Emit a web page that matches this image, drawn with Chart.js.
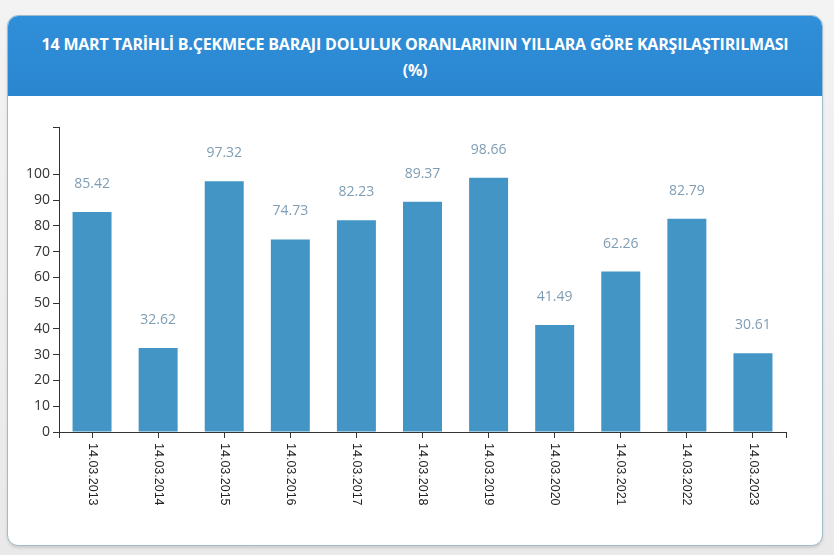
<!DOCTYPE html>
<html lang="tr">
<head>
<meta charset="utf-8">
<title>B.Çekmece Barajı Doluluk Oranları</title>
<script src="https://cdn.jsdelivr.net/npm/chart.js@4.4.0/dist/chart.umd.min.js"></script>
<style>
  html, body { margin: 0; padding: 0; }
  body {
    width: 834px; height: 555px; overflow: hidden;
    background: linear-gradient(#f3f3f3, #e9e9e9);
    font-family: "Open Sans", "Noto Sans", sans-serif;
    position: relative;
  }
  .card {
    position: absolute; left: 7px; top: 15px; width: 814px; height: 529px;
    background: #fff; border: 1px solid #9fbccd; border-radius: 11px;
    box-shadow: 0 2px 3px rgba(0,0,0,0.12);
    overflow: hidden;
  }
  .card-header {
    height: 80px;
    background: linear-gradient(#308fda, #2a86cf);
    color: #fff; text-align: center;
    font-weight: 700; font-size: 16px; line-height: 26px;
    padding-top: 15px; box-sizing: border-box;
    letter-spacing: -0.2px;
    white-space: nowrap;
  }
  #chart { position: absolute; left: 0; top: 96px; }
</style>
</head>
<body>
<div class="card">
  <div class="card-header">
    14 MART TARİHLİ B.ÇEKMECE BARAJI DOLULUK ORANLARININ YILLARA GÖRE KARŞILAŞTIRILMASI<br>(%)
  </div>
</div>
<canvas id="chart" width="834" height="450"></canvas>
<script>
// data
const dates = ['14.03.2013', '14.03.2014', '14.03.2015', '14.03.2016', '14.03.2017', '14.03.2018',
               '14.03.2019', '14.03.2020', '14.03.2021', '14.03.2022', '14.03.2023'];
const fillRates = [85.42, 32.62, 97.32, 74.73, 82.23, 89.37, 98.66, 41.49, 62.26, 82.79, 30.61];
const yTickValues = [0, 10, 20, 30, 40, 50, 60, 70, 80, 90, 100];

const BAR_COLOR = '#4395c6';
const AXIS_COLOR = '#333';
const yMax = Math.max(...fillRates) * 1.2;

// value labels above bars, rotated date labels and the outer axis ticks
const decorations = {
  id: 'decorations',
  afterDatasetsDraw(chart) {
    const { ctx, chartArea, scales } = chart;
    const meta = chart.getDatasetMeta(0);
    ctx.save();

    ctx.fillStyle = '#7e9db4';
    ctx.font = '14px "Open Sans", sans-serif';
    ctx.textAlign = 'center';
    ctx.textBaseline = 'middle';
    meta.data.forEach((bar, i) => {
      ctx.fillText(fillRates[i].toFixed(2), bar.x, bar.y - 28);
    });

    // dates read top to bottom
    ctx.fillStyle = '#222';
    ctx.font = '12.5px "Liberation Sans", Arial, sans-serif';
    ctx.textAlign = 'left';
    dates.forEach((d, i) => {
      const x = scales.x.getPixelForValue(i);
      ctx.save();
      ctx.translate(x, chartArea.bottom + 11);
      ctx.rotate(Math.PI / 2);
      ctx.fillText(d, 0, 0);
      ctx.restore();
    });

    // outer ticks at both ends of the x axis
    ctx.strokeStyle = AXIS_COLOR;
    ctx.lineWidth = 1;
    ctx.beginPath();
    [chartArea.left, chartArea.right].forEach(x => {
      const px = Math.round(x) + 0.5;
      ctx.moveTo(px, chartArea.bottom);
      ctx.lineTo(px, chartArea.bottom + 6);
    });
    ctx.stroke();
    ctx.restore();
  }
};

new Chart(document.getElementById('chart'), {
  type: 'bar',
  data: {
    labels: dates,
    datasets: [{
      data: fillRates,
      backgroundColor: BAR_COLOR,
      borderWidth: 0,
      barPercentage: 0.59,
      categoryPercentage: 1
    }]
  },
  options: {
    responsive: false,
    animation: false,
    events: [],
    layout: { padding: { left: 0, right: 48, top: 31, bottom: 0 } },
    plugins: {
      legend: { display: false },
      tooltip: { enabled: false }
    },
    scales: {
      x: {
        afterFit: (scale) => { scale.height = 114; },
        border: { display: true, color: AXIS_COLOR, width: 1 },
        grid: {
          offset: false,
          drawOnChartArea: false,
          drawTicks: true,
          tickLength: 6,
          color: AXIS_COLOR
        },
        ticks: { callback: () => '', maxRotation: 0 }
      },
      y: {
        min: 0,
        max: yMax,
        afterFit: (scale) => { scale.width = 59; },
        afterBuildTicks: (scale) => {
          scale.ticks = yTickValues.map(v => ({ value: v })).concat([{ value: yMax }]);
        },
        border: { display: true, color: AXIS_COLOR, width: 1 },
        grid: {
          drawOnChartArea: false,
          drawTicks: true,
          tickLength: 6,
          color: AXIS_COLOR
        },
        ticks: {
          padding: 3,
          color: '#333',
          font: { family: '"Open Sans", sans-serif', size: 14 },
          callback: (v) => (v <= 100 ? v : '')
        }
      }
    }
  },
  plugins: [decorations]
});
</script>
</body>
</html>
